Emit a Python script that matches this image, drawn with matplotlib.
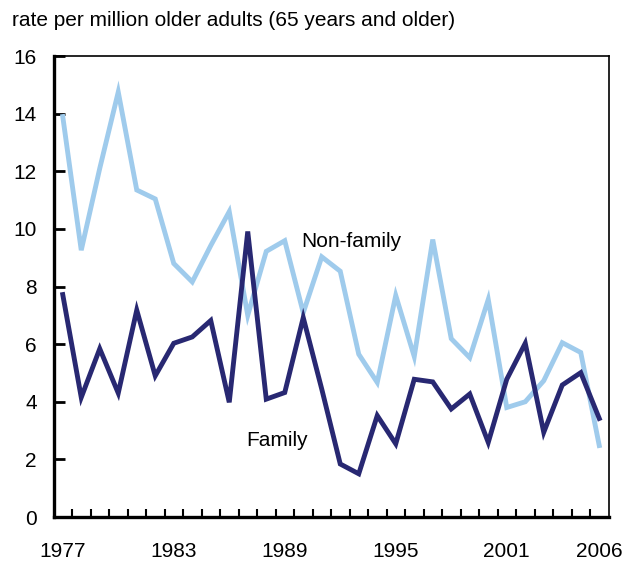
import matplotlib.pyplot as plt

plt.rcParams['font.family'] = ['Liberation Sans', 'DejaVu Sans']

years = list(range(1977, 2007))
non_family = [13.9, 9.26, 12.1, 14.75, 11.35, 11.04, 8.8, 8.16, 9.42, 10.6,
              7.0, 9.22, 9.59, 7.09, 9.03, 8.53, 5.65, 4.67, 7.69, 5.57,
              9.63, 6.19, 5.53, 7.55, 3.8, 4.0, 4.73, 6.05, 5.71, 2.48]
family = [7.72, 4.15, 5.84, 4.3, 7.18, 4.9, 6.03, 6.25, 6.82, 3.98,
          9.91, 4.09, 4.32, 6.92, 4.44, 1.84, 1.5, 3.52, 2.54, 4.78,
          4.69, 3.75, 4.27, 2.59, 4.78, 6.03, 2.94, 4.58, 5.01, 3.42]
tick_years = [1977, 1983, 1989, 1995, 2001, 2006]

fs = 15

fig = plt.figure(figsize=(6.25, 5.63), dpi=100)
ax = fig.add_axes([0.0856, 0.0817, 0.8880, 0.8188])

x = list(range(len(years)))
ax.plot(x, non_family, color='#9fcbec', lw=3.5, solid_joinstyle='miter')
ax.plot(x, family, color='#282872', lw=3.5, solid_joinstyle='miter')

ax.set_xlim(-0.5, len(years) - 0.5)
ax.set_ylim(0, 16)

# labels sit under category centres, ticks sit on the boundaries
ax.set_xticks([years.index(y) for y in tick_years])
ax.set_xticklabels([str(y) for y in tick_years])
ax.set_xticks([i + 0.5 for i in range(len(years) - 1)], minor=True)
ax.tick_params(axis='x', which='major', length=0, pad=18, labelsize=fs)
ax.tick_params(axis='x', which='minor', direction='in', length=6, width=1.5)

ax.set_yticks(range(0, 17, 2))
ax.tick_params(axis='y', direction='in', length=8, width=2, pad=12, labelsize=fs)
ax.yaxis.get_major_ticks()[0].tick1line.set_visible(False)

ax.spines['left'].set_linewidth(2.4)
ax.spines['bottom'].set_linewidth(2.4)
ax.spines['top'].set_linewidth(1.2)
ax.spines['right'].set_linewidth(1.2)

ax.text(12.9, 9.56, 'Non-family', fontsize=fs, va='center', ha='left')
ax.text(9.9, 2.67, 'Family', fontsize=fs, va='center', ha='left')

fig.text(12 / 625, 1 - 20 / 563, 'rate per million older adults (65 years and older)',
         fontsize=fs, va='center', ha='left')

fig.savefig('out.png', dpi=100)
